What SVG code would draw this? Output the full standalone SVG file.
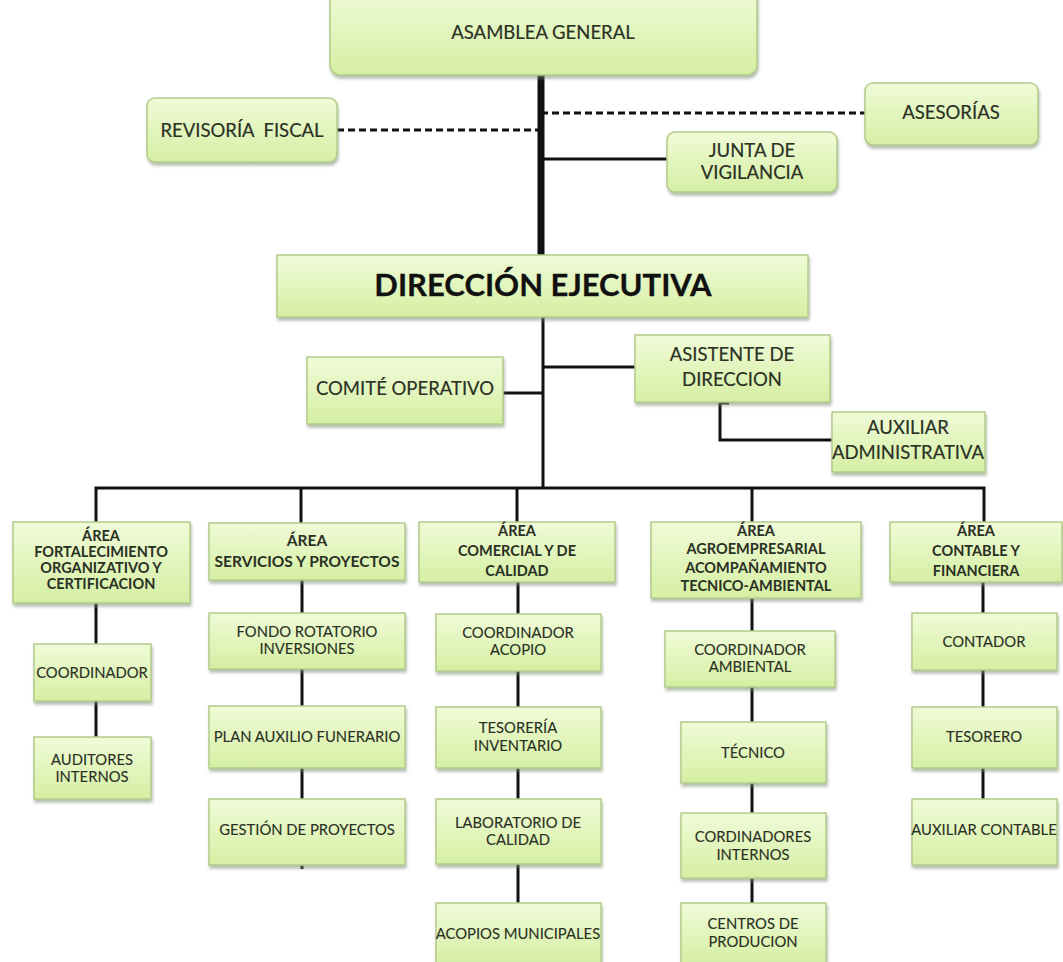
<svg xmlns="http://www.w3.org/2000/svg" width="1063" height="962" viewBox="0 0 1063 962">
<defs>
<linearGradient id="g" x1="0" y1="0" x2="0" y2="1">
<stop offset="0" stop-color="#f0fbd8"/>
<stop offset="1" stop-color="#d5efa3"/>
</linearGradient>
<filter id="sh" x="-10%" y="-10%" width="120%" height="130%">
<feDropShadow dx="1" dy="3" stdDeviation="1.5" flood-color="#7a8a70" flood-opacity="0.55"/>
</filter>
</defs>
<style>
.b{fill:url(#g);stroke:#b3cc8a;stroke-width:1.5;filter:url(#sh)}
.t{font-family:Lato,"Liberation Sans",sans-serif;font-size:14.8px;fill:#2a3024;stroke:#2a3024;stroke-width:0.12;text-anchor:middle}
.tb{font-weight:bold;font-size:14.5px;stroke-width:0}
.tl{font-size:18.5px;stroke-width:0.18}
.c{fill:none;stroke:#111;stroke-width:3}
.d{fill:none;stroke:#111;stroke-width:3;stroke-dasharray:7 4}
</style>
<rect width="1063" height="962" fill="#ffffff"/>
<g id="connectors">
<line class="c" x1="541" y1="74" x2="541" y2="256" style="stroke-width:7"/>
<line class="d" x1="337" y1="130" x2="541" y2="130"/>
<line class="d" x1="541" y1="113" x2="866" y2="113"/>
<line class="c" x1="541" y1="159" x2="667" y2="159"/>
<line class="c" x1="543" y1="317" x2="543" y2="488"/>
<line class="c" x1="503" y1="393" x2="543" y2="393"/>
<line class="c" x1="543" y1="367" x2="635" y2="367"/>
<path class="c" d="M729 403 H720 V440 H833"/>
<path class="c" d="M96 522 V488 H984 V522"/>
<line class="c" x1="301" y1="488" x2="301" y2="523"/>
<line class="c" x1="517" y1="488" x2="517" y2="522"/>
<line class="c" x1="752" y1="488" x2="752" y2="522"/>
<line class="c" x1="96" y1="603" x2="96" y2="644"/>
<line class="c" x1="96" y1="701" x2="96" y2="737"/>
<line class="c" x1="302" y1="580" x2="302" y2="613"/>
<line class="c" x1="302" y1="669" x2="302" y2="706"/>
<line class="c" x1="302" y1="768" x2="302" y2="799"/>
<line class="c" x1="302" y1="865" x2="302" y2="869"/>
<line class="c" x1="518" y1="582" x2="518" y2="614"/>
<line class="c" x1="518" y1="671" x2="518" y2="707"/>
<line class="c" x1="518" y1="768" x2="518" y2="799"/>
<line class="c" x1="518" y1="864" x2="518" y2="903"/>
<line class="c" x1="752" y1="598" x2="752" y2="631"/>
<line class="c" x1="752" y1="687" x2="752" y2="722"/>
<line class="c" x1="752" y1="783" x2="752" y2="813"/>
<line class="c" x1="752" y1="878" x2="752" y2="903"/>
<line class="c" x1="983" y1="582" x2="983" y2="613"/>
<line class="c" x1="983" y1="670" x2="983" y2="707"/>
<line class="c" x1="983" y1="768" x2="983" y2="799"/>
</g>
<g id="asamblea"><rect class="b" x="330" y="-12" width="427" height="87" rx="10"/><text class="t tl" x="543" y="39">ASAMBLEA GENERAL</text></g>
<g id="revisoria"><rect class="b" x="147" y="98" width="190" height="64" rx="8"/><text class="t tl" x="242" y="137" xml:space="preserve">REVISORÍA  FISCAL</text></g>
<g id="asesorias"><rect class="b" x="865" y="83" width="173" height="62" rx="8"/><text class="t tl" x="951" y="119">ASESORÍAS</text></g>
<g id="junta"><rect class="b" x="667" y="132" width="170" height="60" rx="8"/><text class="t tl" x="752" y="157">JUNTA DE</text><text class="t tl" x="752" y="179">VIGILANCIA</text></g>
<g id="direccion"><rect class="b" x="277" y="255" width="531" height="62"/><text class="t" x="543" y="296" style="font-size:31px;font-weight:bold;fill:#111;stroke:#111;stroke-width:0.3">DIRECCIÓN EJECUTIVA</text></g>
<g id="comite"><rect class="b" x="307" y="357" width="196" height="67"/><text class="t tl" x="405" y="395">COMITÉ OPERATIVO</text></g>
<g id="asistente"><rect class="b" x="635" y="335" width="195" height="67"/><text class="t tl" x="732" y="361">ASISTENTE DE</text><text class="t tl" x="732" y="386">DIRECCION</text></g>
<g id="auxiliar-adm"><rect class="b" x="832" y="412" width="153" height="60"/><text class="t tl" x="908" y="434">AUXILIAR</text><text class="t tl" x="908" y="459">ADMINISTRATIVA</text></g>
<g id="area1"><rect class="b" x="13" y="522" width="177" height="81"/><text class="t tb" x="101" y="541">ÁREA</text><text class="t tb" x="101" y="557">FORTALECIMIENTO</text><text class="t tb" x="101" y="573">ORGANIZATIVO Y</text><text class="t tb" x="101" y="589">CERTIFICACION</text></g>
<g id="area2"><rect class="b" x="209" y="523" width="196" height="57"/><text class="t tb" x="307" y="546" style="font-size:15.5px">ÁREA</text><text class="t tb" x="307" y="567" style="font-size:15.5px">SERVICIOS Y PROYECTOS</text></g>
<g id="area3"><rect class="b" x="419" y="522" width="196" height="60"/><text class="t tb" x="517" y="536">ÁREA</text><text class="t tb" x="517" y="556">COMERCIAL Y DE</text><text class="t tb" x="517" y="576">CALIDAD</text></g>
<g id="area4"><rect class="b" x="651" y="522" width="210" height="76"/><text class="t tb" x="756" y="536">ÁREA</text><text class="t tb" x="756" y="554">AGROEMPRESARIAL</text><text class="t tb" x="756" y="573">ACOMPAÑAMIENTO</text><text class="t tb" x="756" y="591">TECNICO-AMBIENTAL</text></g>
<g id="area5"><rect class="b" x="890" y="522" width="172" height="60"/><text class="t tb" x="976" y="536">ÁREA</text><text class="t tb" x="976" y="556">CONTABLE Y</text><text class="t tb" x="976" y="576">FINANCIERA</text></g>
<g id="coordinador"><rect class="b" x="34" y="644" width="117" height="57"/><text class="t" x="92" y="678">COORDINADOR</text></g>
<g id="auditores"><rect class="b" x="34" y="737" width="117" height="62"/><text class="t" x="92" y="765">AUDITORES</text><text class="t" x="92" y="782">INTERNOS</text></g>
<g id="fondo"><rect class="b" x="209" y="613" width="196" height="56"/><text class="t" x="307" y="637">FONDO ROTATORIO</text><text class="t" x="307" y="654">INVERSIONES</text></g>
<g id="plan"><rect class="b" x="209" y="706" width="196" height="62"/><text class="t" x="307" y="742">PLAN AUXILIO FUNERARIO</text></g>
<g id="gestion"><rect class="b" x="209" y="799" width="196" height="66"/><text class="t" x="307" y="835">GESTIÓN DE PROYECTOS</text></g>
<g id="coord-acopio"><rect class="b" x="436" y="614" width="165" height="57"/><text class="t" x="518" y="638">COORDINADOR</text><text class="t" x="518" y="655">ACOPIO</text></g>
<g id="tesoreria"><rect class="b" x="436" y="707" width="165" height="61"/><text class="t" x="518" y="733">TESORERÍA</text><text class="t" x="518" y="751">INVENTARIO</text></g>
<g id="laboratorio"><rect class="b" x="436" y="799" width="165" height="65"/><text class="t" x="518" y="828">LABORATORIO DE</text><text class="t" x="518" y="845">CALIDAD</text></g>
<g id="acopios"><rect class="b" x="436" y="903" width="165" height="62"/><text class="t" x="518" y="939">ACOPIOS MUNICIPALES</text></g>
<g id="coord-ambiental"><rect class="b" x="665" y="631" width="170" height="56"/><text class="t" x="750" y="655">COORDINADOR</text><text class="t" x="750" y="672">AMBIENTAL</text></g>
<g id="tecnico"><rect class="b" x="681" y="722" width="145" height="61"/><text class="t" x="753" y="758">TÉCNICO</text></g>
<g id="cordinadores"><rect class="b" x="681" y="813" width="145" height="65"/><text class="t" x="753" y="842">CORDINADORES</text><text class="t" x="753" y="860">INTERNOS</text></g>
<g id="centros"><rect class="b" x="681" y="903" width="145" height="62"/><text class="t" x="753" y="929">CENTROS DE</text><text class="t" x="753" y="947">PRODUCION</text></g>
<g id="contador"><rect class="b" x="912" y="613" width="145" height="57"/><text class="t" x="984" y="647">CONTADOR</text></g>
<g id="tesorero"><rect class="b" x="912" y="707" width="145" height="61"/><text class="t" x="984" y="742">TESORERO</text></g>
<g id="auxiliar-contable"><rect class="b" x="912" y="799" width="145" height="66"/><text class="t" x="984" y="835">AUXILIAR CONTABLE</text></g>
</svg>
